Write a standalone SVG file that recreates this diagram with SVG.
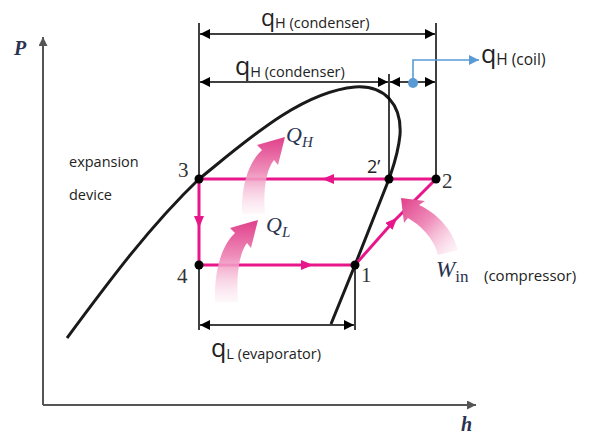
<svg xmlns="http://www.w3.org/2000/svg" width="589" height="434" viewBox="0 0 589 434">
<defs>
<marker id="ah" viewBox="0 0 10 10" refX="10" refY="5" markerWidth="10" markerHeight="10" markerUnits="userSpaceOnUse" orient="auto-start-reverse"><path d="M0,0 L10,5 L0,10 Z" fill="#000"/></marker>
<marker id="ahb" viewBox="0 0 10 10" refX="10" refY="5" markerWidth="10" markerHeight="10" markerUnits="userSpaceOnUse" orient="auto"><path d="M0,0 L10,5 L0,10 Z" fill="#5b9bd5"/></marker>
<marker id="ahg" viewBox="0 0 10 10" refX="10" refY="5" markerWidth="9" markerHeight="9" markerUnits="userSpaceOnUse" orient="auto"><path d="M0,0 L10,5 L0,10 Z" fill="#555"/></marker>
<marker id="ahm" viewBox="0 0 12 10" refX="6" refY="5" markerWidth="12" markerHeight="10" markerUnits="userSpaceOnUse" orient="auto"><path d="M0,0 L12,5 L0,10 Z" fill="#e8168a"/></marker>
<linearGradient id="gv" x1="0" y1="1" x2="0" y2="0"><stop offset="0" stop-color="#fbe6ef" stop-opacity="0.3"/><stop offset="0.55" stop-color="#ef8fbb"/><stop offset="1" stop-color="#e0408a"/></linearGradient>
<linearGradient id="gw" x1="1" y1="1" x2="0" y2="0"><stop offset="0" stop-color="#fbe6ef" stop-opacity="0.3"/><stop offset="0.55" stop-color="#ef8fbb"/><stop offset="1" stop-color="#e0408a"/></linearGradient>
</defs>
<style>
.dim{stroke:#000;stroke-width:1.5;fill:none}
.cyc{stroke:#e8168a;stroke-width:3;fill:none}
.pt{fill:#000}
.sans{font-family:"Open Sans","Noto Sans",sans-serif;fill:#222}
.ser{font-family:"Liberation Serif","Times New Roman",serif;fill:#333}
.it{font-family:"Liberation Serif","Times New Roman",serif;font-style:italic;fill:#2a3350}
</style>

<g id="axes">
<line x1="43" y1="405" x2="43" y2="37" stroke="#555" stroke-width="2" marker-end="url(#ahg)"/>
<line x1="43" y1="405" x2="476" y2="405" stroke="#555" stroke-width="2" marker-end="url(#ahg)"/>
<text x="14" y="55" class="it" font-size="20" font-weight="bold">P</text>
<text x="461" y="431" class="it" font-size="20" font-weight="bold">h</text>
</g>

<g id="dome">
<path d="M67,338 C110,280 150,226 199,179 C245,142 300,92 355,87 C385,85 402,105 400,135 C398,155 393,167 389,179 L355,265 L331,324" fill="none" stroke="#1a1a1a" stroke-width="3"/>
</g>

<g id="connectors">
<line class="dim" x1="199" y1="23" x2="199" y2="330"/>
<line class="dim" x1="436" y1="23" x2="436" y2="179"/>
<line class="dim" x1="389" y1="74" x2="389" y2="179"/>
<line class="dim" x1="355" y1="265" x2="355" y2="330"/>
<line class="dim" x1="200" y1="34" x2="435" y2="34" marker-start="url(#ah)" marker-end="url(#ah)"/>
<line class="dim" x1="200" y1="82" x2="388" y2="82" marker-start="url(#ah)" marker-end="url(#ah)"/>
<line class="dim" x1="390" y1="82" x2="435" y2="82" marker-start="url(#ah)" marker-end="url(#ah)"/>
<line class="dim" x1="200" y1="325" x2="354" y2="325" marker-start="url(#ah)" marker-end="url(#ah)"/>
<path d="M413,83 L413,60 L479,60" fill="none" stroke="#5b9bd5" stroke-width="1.6" marker-end="url(#ahb)"/>
<circle cx="413" cy="83" r="5" fill="#5b9bd5"/>
<path class="cyc" d="M199,179 L199,222 L199,265" marker-mid="url(#ahm)"/>
<path class="cyc" d="M199,265 L307,265 L355,265" marker-mid="url(#ahm)"/>
<path class="cyc" d="M355,265 L393,222 L436,179" marker-mid="url(#ahm)"/>
<path class="cyc" d="M436,179 L328,179 L199,179" marker-mid="url(#ahm)"/>
</g>

<g id="heat-arrows">
<path d="M242,214 C241,187 248,163 262,150 L257,145 L285,137 L278,165 L274,160 C266,170 263,190 265,214 Z" fill="url(#gv)"/>
<path d="M215,302 C214,272 221,246 235,233 L230,228 L258,220 L251,248 L247,243 C239,253 236,277 238,302 Z" fill="url(#gv)"/>
<path d="M438,255 C434,238 420,225 408,218 L404,223 L401,198 L425,201 L419,205 C436,213 452,228 458,250 Z" fill="url(#gw)"/>
</g>

<g id="points">
<circle class="pt" cx="199" cy="179" r="4.5"/>
<circle class="pt" cx="389" cy="179" r="4.5"/>
<circle class="pt" cx="436" cy="179" r="4.5"/>
<circle class="pt" cx="199" cy="265" r="4.5"/>
<circle class="pt" cx="355" cy="265" r="4.5"/>
</g>

<g id="labels">
<text x="178" y="177" class="ser" font-size="21">3</text>
<text x="367" y="173" class="sans" font-size="18">2’</text>
<text x="442" y="188" class="ser" font-size="21">2</text>
<text x="177" y="283" class="ser" font-size="21">4</text>
<text x="361" y="282" class="ser" font-size="21">1</text>
<text x="286" y="142" class="it" font-size="22">Q<tspan font-size="15" dy="5">H</tspan></text>
<text x="266" y="232" class="it" font-size="22">Q<tspan font-size="15" dy="5">L</tspan></text>
<text x="436" y="277" class="it" font-size="23">W<tspan font-size="17" dy="5" font-style="normal">in</tspan></text>
<text x="484" y="281" class="sans" font-size="15">(compressor)</text>
<text x="69" y="167" class="sans" font-size="14.5">expansion</text>
<text x="69" y="200" class="sans" font-size="14.5">device</text>
<text x="261" y="26" class="sans" font-size="23">q<tspan font-size="14.5" dy="2">H (condenser)</tspan></text>
<text x="235" y="75" class="sans" font-size="25">q<tspan font-size="14.5" dy="2">H (condenser)</tspan></text>
<text x="481" y="63" class="sans" font-size="25">q<tspan font-size="15.5" dy="2">H (coil)</tspan></text>
<text x="211" y="357" class="sans" font-size="25">q<tspan font-size="14.5" dy="2">L (evaporator)</tspan></text>
</g>
</svg>
